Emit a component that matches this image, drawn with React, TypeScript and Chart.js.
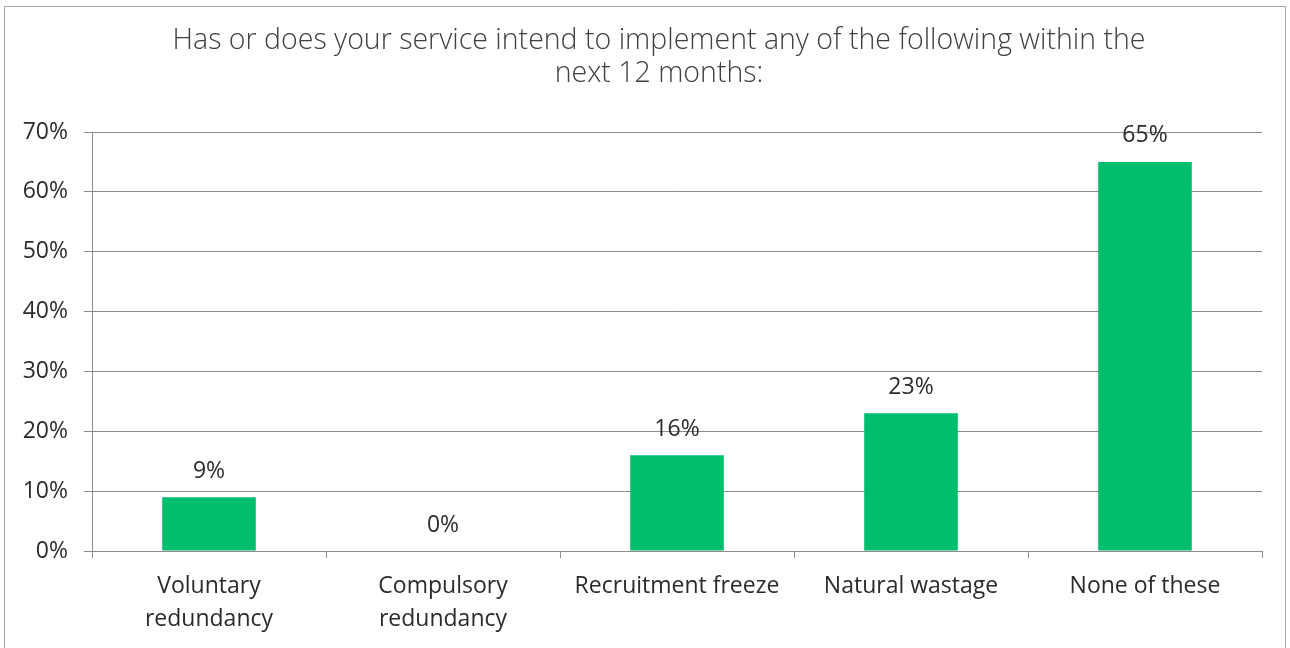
import React, { useEffect, useRef } from "react";
import { Chart, registerables } from "chart.js";

Chart.register(...registerables);

const titleLines = [
  "Has or does your service intend to implement any of the following within the",
  "next 12 months:",
];
const categories: string[][] = [
  ["Voluntary", "redundancy"],
  ["Compulsory", "redundancy"],
  ["Recruitment freeze"],
  ["Natural wastage"],
  ["None of these"],
];
const values = [9, 0, 16, 23, 65];
const yTicks = [0, 10, 20, 30, 40, 50, 60, 70];

const FONT = '"Open Sans", "Noto Sans", sans-serif';
const BAR = "#00BE6E";
const GRID = "#8c8c8c";
const TEXT = "#2b2b2b";

const overlay = {
  id: "overlay",
  afterDatasetsDraw(chart: any) {
    const ctx = chart.ctx;
    ctx.save();
    ctx.fillStyle = "#404040";
    ctx.font = `300 28.5px ${FONT}`;
    ctx.textAlign = "center";
    ctx.textBaseline = "middle";
    titleLines.forEach((t, i) => ctx.fillText(t, 659, 41 + i * 33));
    const meta = chart.getDatasetMeta(0);
    ctx.fillStyle = TEXT;
    ctx.font = `23px ${FONT}`;
    meta.data.forEach((bar: any, i: number) => {
      ctx.fillText(`${values[i]}%`, bar.x, bar.y - 26);
    });
    ctx.restore();
  },
};

export default function App() {
  const ref = useRef<HTMLCanvasElement>(null);
  useEffect(() => {
    const chart = new Chart(ref.current!, {
      type: "bar",
      data: {
        labels: categories,
        datasets: [
          {
            data: values,
            backgroundColor: BAR,
            barPercentage: 0.4,
            categoryPercentage: 1,
          },
        ],
      },
      options: {
        animation: false,
        responsive: false,
        layout: { padding: { top: 132, right: 28, left: 0, bottom: 0 } },
        plugins: {
          legend: { display: false },
          title: { display: false },
          tooltip: { enabled: false },
        },
        scales: {
          x: {
            offset: true,
            grid: {
              drawOnChartArea: false,
              drawTicks: true,
              tickLength: 7,
              color: GRID,
              offset: true,
            },
            border: { color: GRID },
            ticks: {
              color: TEXT,
              font: { family: FONT, size: 23, lineHeight: 1.435 },
              padding: 12,
              maxRotation: 0,
              autoSkip: false,
            },
            afterFit: (s: any) => {
              s.height = 97;
            },
          },
          y: {
            min: 0,
            max: 70,
            afterBuildTicks: (s: any) => {
              s.ticks = yTicks.map((v) => ({ value: v }));
            },
            grid: { color: GRID, tickLength: 8, drawTicks: true },
            border: { color: GRID },
            ticks: {
              color: TEXT,
              font: { family: FONT, size: 23 },
              padding: 16,
              callback: (v: any) => `${v}%`,
            },
            afterFit: (s: any) => {
              s.width = 92;
            },
          },
        },
      },
      plugins: [overlay],
    });
    return () => chart.destroy();
  }, []);
  return (
    <div style={{ position: "absolute", left: 0, top: 0, width: 1290, height: 648, background: "#fff", overflow: "hidden" }}>
      <div
        style={{
          position: "absolute",
          left: 4,
          top: 6,
          width: 1282,
          height: 660,
          border: "1px solid #a6a6a6",
          boxSizing: "border-box",
        }}
      />
      <canvas ref={ref} width={1290} height={648} style={{ position: "absolute", left: 0, top: 0 }} />
    </div>
  );
}
